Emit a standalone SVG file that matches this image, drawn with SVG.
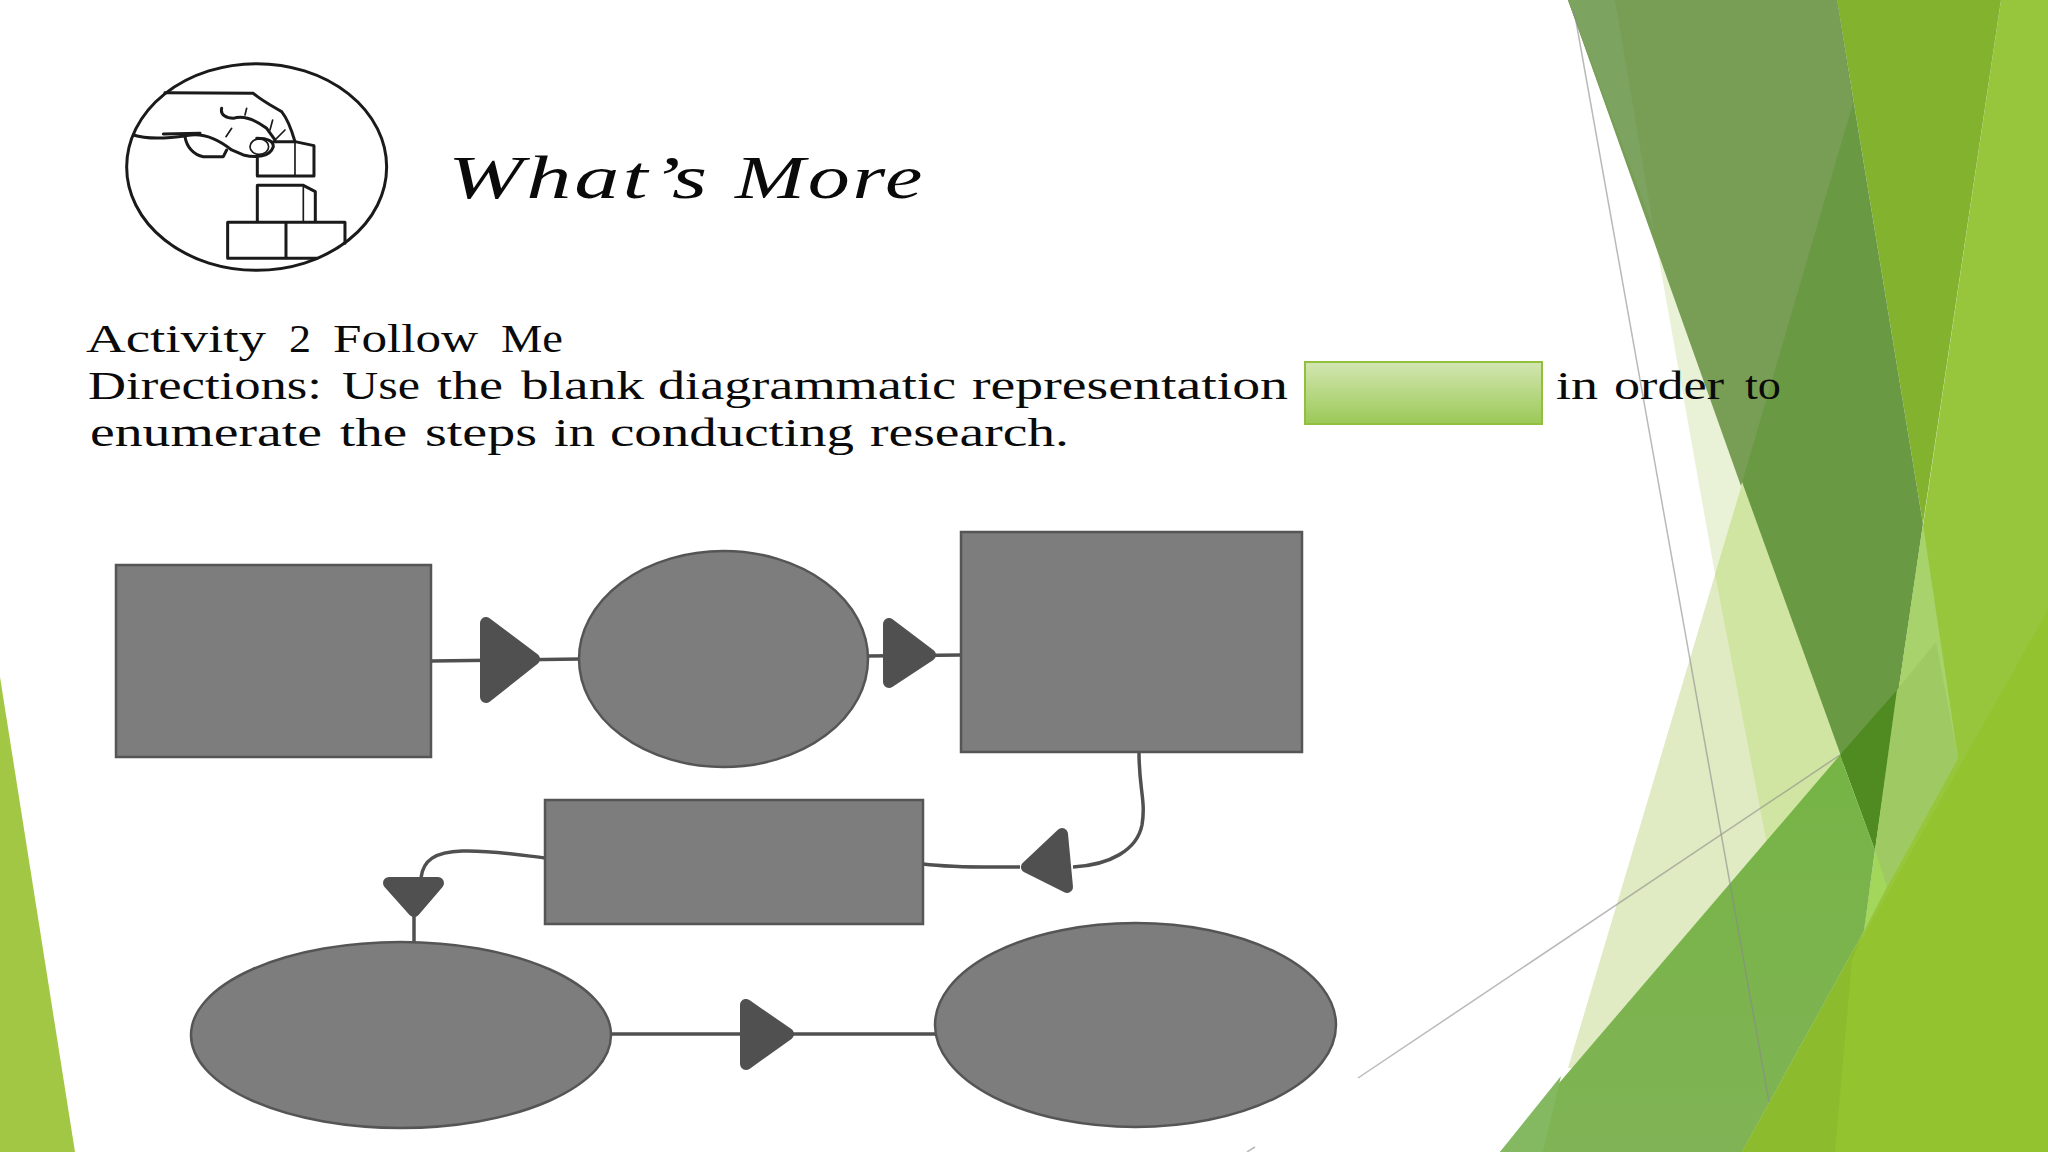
<svg xmlns="http://www.w3.org/2000/svg" width="2048" height="1152" viewBox="0 0 2048 1152">
<style>
text{font-family:"Liberation Serif","DejaVu Serif",serif;fill:#0a0a0a}
.body{font-size:40px}
.title{font-size:61px;font-style:italic;letter-spacing:2px}
.shape{fill:#7e7d7e;stroke:#555;stroke-width:2.5}
.wire{fill:none;stroke:#505050;stroke-width:3.5}
.head{fill:#505050;stroke:#505050;stroke-width:12;stroke-linejoin:round}
.ink{fill:none;stroke:#1a1a1a;stroke-width:9;stroke-linejoin:round;stroke-linecap:round}
.thin{stroke-width:5}
.rule{fill:none;stroke:#8a8a8a;stroke-opacity:.6;stroke-width:1.5}
</style>
<defs>
<linearGradient id="box" x1="0" y1="0" x2="0" y2="1"><stop offset="0" stop-color="#d3e6b2"/><stop offset="1" stop-color="#9bc956"/></linearGradient>
<linearGradient id="band" x1="0" y1="0" x2="0" y2="1"><stop offset="0" stop-color="#76b445"/><stop offset="1" stop-color="#80b355"/></linearGradient>
</defs>
<rect width="2048" height="1152" fill="#fff"/>
<g id="background">
<polygon points="0,677 75,1152 0,1152" fill="#a2c745"/>
<polygon points="2001,0 2048,0 2048,1152 1742,1152 1864,931 1912,600" fill="#97c63c"/>
<polygon points="1837,0 2001,0 1923,524" fill="#83b32e"/>
<polygon points="1745,474 1568,1068 1640,1068 1800,800" fill="#e0ebc3"/>
<polygon points="1655,237 1745,474 1715,574" fill="#e9f1d6"/>
<polygon points="1745,474 1800,600 1850,755 1770,860 1715,574" fill="#d0e5a1"/>
<polygon points="1568,0 1837,0 1923,524 1875,850" fill="#6a9943"/>
<polygon points="1568,0 1837,0 1853,103 1741,486" fill="#789e56"/>
<polygon points="1568,0 1615,0 1654,230" fill="#7da361"/>
<polygon points="1897,690 1840,755 1875,850" fill="#4f8b20"/>
<polygon points="1923,524 1958,758 1887,887 1875,850" fill="#a7d26c"/>
<polygon points="1936,642 1958,758 1887,887 1875,850 1897,690" fill="#9fc963"/>
<polygon points="1875,850 1887,887 1864,931" fill="#a2d75c"/>
<polygon points="1840,755 1875,850 1864,931 1742,1152 1500,1152" fill="url(#band)"/>
<polygon points="1561,1076 1500,1152 1543,1152" fill="#84b962"/>
<polygon points="2048,610 1742,1152 2048,1152" fill="#93c32e"/>
<polygon points="1864,931 1742,1152 1835,1152 1852,960" fill="#8cbc2d"/>
<line class="rule" x1="1574" y1="10" x2="1769" y2="1102"/>
<line class="rule" x1="1358" y1="1078" x2="1840" y2="755"/>
<line class="rule" x1="1247" y1="1152" x2="1255" y2="1147"/>
</g>
<g id="logo" transform="translate(100 40) scale(.3333)">
<ellipse class="ink" cx="470" cy="381" rx="390" ry="310"/>
<path class="ink" d="M195,158 L460,160 C490,185 520,200 545,215 C565,240 575,270 585,305"/>
<path class="ink" d="M100,285 C140,298 190,297 260,287 C300,278 345,290 395,330 L430,345 C470,355 510,350 520,320 C520,300 500,295 470,295"/>
<path class="ink" d="M190,282 L300,280"/>
<path class="ink" d="M365,205 C360,225 380,235 400,235 C430,225 460,235 500,265 L525,300"/>
<path class="ink thin" d="M440,205 L435,225 M518,240 L510,270 M555,270 L525,300 M395,265 L378,290"/>
<ellipse class="ink thin" cx="478" cy="320" rx="28" ry="23"/>
<path class="ink" d="M255,290 C260,320 280,345 310,350 L370,350 L380,330"/>
<path class="ink" d="M520,305 L585,305 L642,317 L642,408 L472,408 L472,355"/>
<path class="ink thin" d="M585,305 L585,408"/>
<path class="ink" d="M472,545 L472,436 L610,436 L646,455 L646,545"/>
<path class="ink thin" d="M610,436 L610,545"/>
<path class="ink" d="M735,610 L735,547 L383,547 L383,655 L650,655 M558,547 L558,655"/>
</g>
<g id="title"><text class="title" y="198"><tspan x="448" textLength="262" lengthAdjust="spacingAndGlyphs">What’s</tspan> <tspan x="735" textLength="190" lengthAdjust="spacingAndGlyphs">More</tspan></text></g>
<g id="directions">
<text class="body" y="352"><tspan x="86" textLength="180" lengthAdjust="spacingAndGlyphs">Activity</tspan> <tspan x="289" textLength="22" lengthAdjust="spacingAndGlyphs">2</tspan> <tspan x="333" textLength="145" lengthAdjust="spacingAndGlyphs">Follow</tspan> <tspan x="501" textLength="62" lengthAdjust="spacingAndGlyphs">Me</tspan></text>
<text class="body" y="399"><tspan x="88" textLength="234" lengthAdjust="spacingAndGlyphs">Directions:</tspan> <tspan x="342" textLength="78" lengthAdjust="spacingAndGlyphs">Use</tspan> <tspan x="437" textLength="66" lengthAdjust="spacingAndGlyphs">the</tspan> <tspan x="521" textLength="123" lengthAdjust="spacingAndGlyphs">blank</tspan> <tspan x="658" textLength="298" lengthAdjust="spacingAndGlyphs">diagrammatic</tspan> <tspan x="972" textLength="316" lengthAdjust="spacingAndGlyphs">representation</tspan></text>
<text class="body" y="399"><tspan x="1556" textLength="42" lengthAdjust="spacingAndGlyphs">in</tspan> <tspan x="1614" textLength="110" lengthAdjust="spacingAndGlyphs">order</tspan> <tspan x="1745" textLength="36" lengthAdjust="spacingAndGlyphs">to</tspan></text>
<text class="body" y="446"><tspan x="90" textLength="232" lengthAdjust="spacingAndGlyphs">enumerate</tspan> <tspan x="340" textLength="67" lengthAdjust="spacingAndGlyphs">the</tspan> <tspan x="425" textLength="112" lengthAdjust="spacingAndGlyphs">steps</tspan> <tspan x="554" textLength="41" lengthAdjust="spacingAndGlyphs">in</tspan> <tspan x="610" textLength="244" lengthAdjust="spacingAndGlyphs">conducting</tspan> <tspan x="870" textLength="199" lengthAdjust="spacingAndGlyphs">research.</tspan></text>
</g>
<g id="blank-box"><rect x="1305" y="362" width="237" height="62" fill="url(#box)" stroke="#93bf3e" stroke-width="2"/></g>
<g id="connectors">
<path class="wire" d="M431,661 L580,659"/>
<path class="wire" d="M868,656 L961,655"/>
<path class="wire" d="M1139,752 C1139,790 1146,800 1142,825 C1137,850 1110,865 1073,867"/>
<path class="wire" d="M1020,867 C985,867 955,868 923,864"/>
<path class="wire" d="M545,858 C520,855 490,850 462,851 C435,852 423,860 421,878"/>
<path class="wire" d="M414,915 L414,943"/>
<path class="wire" d="M611,1034 L935,1034"/>
<polygon class="head" points="486,623 486,697 534,659"/>
<polygon class="head" points="889,624 889,682 930,655"/>
<polygon class="head" points="1027,867 1062,834 1067,887"/>
<polygon class="head" points="389,883 438,883 414,911"/>
<polygon class="head" points="746,1005 746,1064 788,1034"/>
</g>
<g id="node-1"><rect class="shape" x="116" y="565" width="315" height="192"/></g>
<g id="node-2"><ellipse class="shape" cx="723.500" cy="659" rx="144.500" ry="108"/></g>
<g id="node-3"><rect class="shape" x="961" y="532" width="341" height="220"/></g>
<g id="node-4"><rect class="shape" x="545" y="800" width="378" height="124"/></g>
<g id="node-5"><ellipse class="shape" cx="401" cy="1035" rx="210" ry="93"/></g>
<g id="node-6"><ellipse class="shape" cx="1135.500" cy="1025" rx="200.500" ry="102"/></g>
</svg>
